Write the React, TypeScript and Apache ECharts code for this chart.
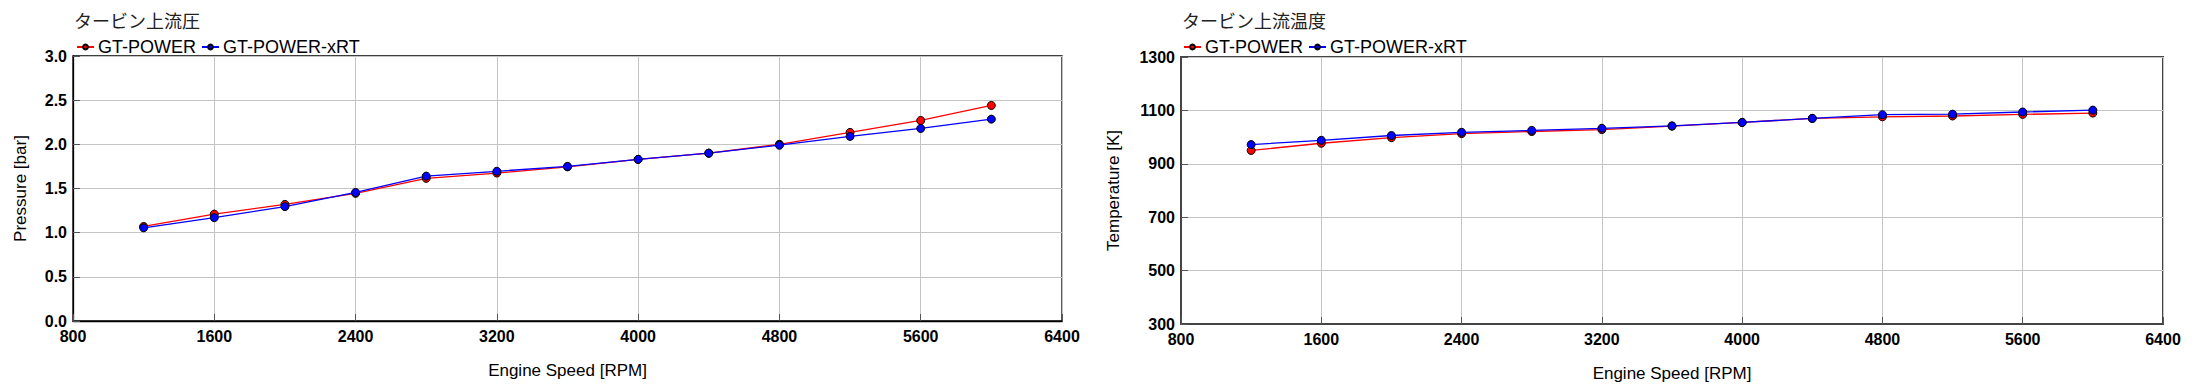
import React, { useEffect, useRef } from "react";
import * as echarts from "echarts";

const rpm = [1200, 1600, 2000, 2400, 2800, 3200, 3600, 4000, 4400, 4800, 5200, 5600, 6000];
const pressureGT = [1.07, 1.21, 1.32, 1.445, 1.615, 1.675, 1.745, 1.83, 1.9, 2.0, 2.135, 2.27, 2.44];
const pressureXRT = [1.055, 1.17, 1.295, 1.455, 1.64, 1.695, 1.75, 1.83, 1.9, 1.99, 2.09, 2.18, 2.285];
const tempGT = [950, 977, 998, 1013, 1021, 1028, 1041, 1055, 1070, 1076, 1079, 1085, 1090];
const tempXRT = [972, 988, 1006, 1018, 1025, 1033, 1042, 1055, 1070, 1084, 1086, 1094, 1101];
const tempTicks = [300, 500, 700, 900, 1100, 1300];
const seriesNames = ["GT-POWER", "GT-POWER-xRT"];
const titles = ["タービン上流圧", "タービン上流温度"];

const FONT = "'Liberation Sans', Arial, sans-serif";
const CJK = "'Noto Sans CJK JP', sans-serif";

function pairs(xs: number[], ys: number[]) {
  return xs.map((x, i) => [x, ys[i]]);
}

export default function App() {
  const ref = useRef<HTMLDivElement>(null);
  useEffect(() => {
    document.body.style.margin = "0";
    const chart = echarts.init(ref.current!, null, { renderer: "svg" });
    const tickLabel = { color: "#000", fontFamily: FONT, fontSize: 16, fontWeight: "bold" as const };
    const axisName = { color: "#000", fontFamily: FONT, fontSize: 17 };
    const mkX = (gi: number, frameColor: string, frameW: number) => ({
      type: "value",
      gridIndex: gi,
      min: 800,
      max: 6400,
      interval: 800,
      name: "Engine Speed [RPM]",
      nameLocation: "middle",
      nameGap: 41,
      nameTextStyle: axisName,
      axisLine: { show: true, lineStyle: { color: frameColor, width: frameW } },
      axisTick: { show: true, inside: true, length: 7, lineStyle: { color: "#555" } },
      axisLabel: { ...tickLabel, margin: 7, formatter: (v: number) => String(v) },
      splitLine: { show: true, lineStyle: { color: "#c4c4c4", width: 1 } },
    });
    const series = (gi: number, a: number[], b: number[]) => [
      {
        name: seriesNames[0],
        type: "line",
        xAxisIndex: gi,
        yAxisIndex: gi,
        data: pairs(rpm, a),
        symbol: "circle",
        symbolSize: 8,
        lineStyle: { color: "#ff0000", width: 1.3 },
        itemStyle: { color: "#ff0000", borderColor: "#000", borderWidth: 1 },
        z: 2,
      },
      {
        name: seriesNames[1],
        type: "line",
        xAxisIndex: gi,
        yAxisIndex: gi,
        data: pairs(rpm, b),
        symbol: "circle",
        symbolSize: 8,
        lineStyle: { color: "#0000ff", width: 1.3 },
        itemStyle: { color: "#0000ff", borderColor: "#000", borderWidth: 1 },
        z: 3,
      },
    ];
    const legend = (left: number) => ({
      left,
      top: 38,
      padding: 0,
      itemWidth: 17,
      itemHeight: 6,
      itemGap: 5,
      data: seriesNames,
      textStyle: { color: "#000", fontFamily: FONT, fontSize: 18, lineHeight: 18, padding: [0, 0, 0, -1] },
    });
    chart.setOption({
      animation: false,
      backgroundColor: "#fff",
      title: [
        { text: titles[0], left: 74, top: 11, padding: 0, textStyle: { fontFamily: CJK, fontSize: 18, fontWeight: "normal", color: "#222" } },
        { text: titles[1], left: 1182, top: 11, padding: 0, textStyle: { fontFamily: CJK, fontSize: 18, fontWeight: "normal", color: "#222" } },
      ],
      legend: [legend(76), legend(1183)],
      grid: [
        { left: 73, top: 56, width: 989, height: 265, show: true, borderColor: "#000", borderWidth: 1.3, backgroundColor: "transparent" },
        { left: 1181, top: 57, width: 982, height: 267, show: true, borderColor: "#444", borderWidth: 2, backgroundColor: "transparent" },
      ],
      xAxis: [mkX(0, "#000", 1.3), mkX(1, "#444", 2)],
      yAxis: [
        {
          type: "value",
          gridIndex: 0,
          min: 0,
          max: 3,
          interval: 0.5,
          name: "Pressure [bar]",
          nameLocation: "middle",
          nameGap: 44,
          nameTextStyle: axisName,
          axisLine: { show: true, lineStyle: { color: "#000", width: 1.3 } },
          axisTick: { show: true, inside: true, length: 7, lineStyle: { color: "#555" } },
          axisLabel: { ...tickLabel, margin: 6, formatter: (v: number) => v.toFixed(1) },
          splitLine: { show: true, lineStyle: { color: "#c4c4c4", width: 1 } },
        },
        {
          type: "value",
          gridIndex: 1,
          min: 300,
          max: 1300,
          name: "Temperature [K]",
          nameLocation: "middle",
          nameGap: 59,
          nameTextStyle: axisName,
          axisLine: { show: true, lineStyle: { color: "#444", width: 2 } },
          axisTick: { show: true, inside: true, length: 7, lineStyle: { color: "#555" }, customValues: tempTicks },
          axisLabel: { ...tickLabel, margin: 6, customValues: tempTicks, formatter: (v: number) => String(v) },
          splitLine: { show: true, lineStyle: { color: "#c4c4c4", width: 1 } },
        },
      ],
      series: [...series(0, pressureGT, pressureXRT), ...series(1, tempGT, tempXRT)],
    });
    return () => chart.dispose();
  }, []);
  return <div ref={ref} style={{ width: 2198, height: 392 }} />;
}
